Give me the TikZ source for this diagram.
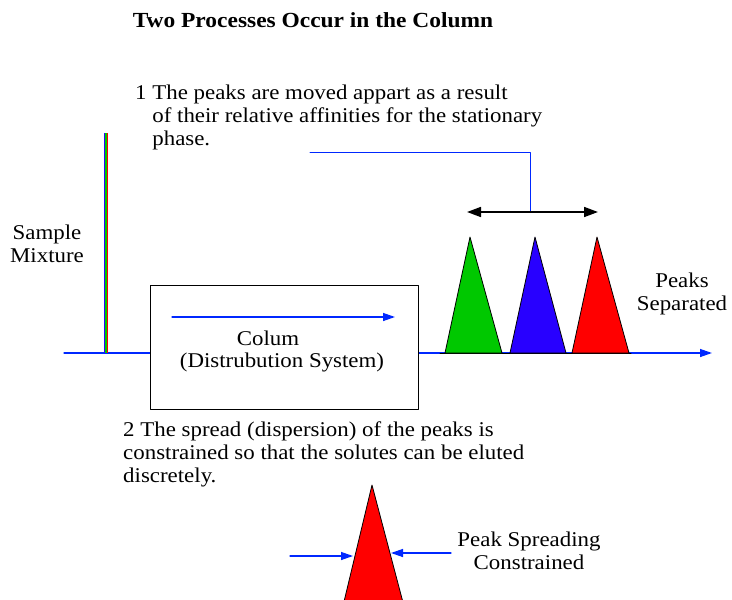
\documentclass[tikz,border=0pt]{standalone}
\usepackage{fontspec}
\setmainfont{Liberation Serif}[FakeStretch=1.09]
\usetikzlibrary{arrows.meta}
\definecolor{peakgreen}{RGB}{0,200,0}
\definecolor{peakblue}{RGB}{40,0,255}
\definecolor{peakred}{RGB}{255,0,0}
\definecolor{flowblue}{RGB}{0,40,255}
\begin{document}
\begin{tikzpicture}[x=1pt,y=-1pt,line cap=round,line join=round,
    flow/.style={draw=flowblue,line width=1.3pt},
    flowtip/.style={-{Triangle[length=12pt,width=8pt]}},
    peak/.style={draw=black,line width=0.8pt},
    lbl/.style={inner sep=0pt,font=\fontsize{21}{23}\selectfont,align=center},
    note/.style={lbl,align=left,anchor=north west}]
  \useasboundingbox (0,0) rectangle (732,600);
  \clip (0,0) rectangle (732,600);
  \coordinate (inlet) at (64,353);
  \coordinate (outlet) at (712,353);
  \coordinate (lead) at (310,152);
  \coordinate (sepL) at (467,212);
  \coordinate (sepM) at (530,212);
  \coordinate (sepR) at (598,212);
  \coordinate (flowA) at (172,317);
  \coordinate (flowB) at (395,317);
  \coordinate (injTop) at (106,133);
  \coordinate (injBot) at (106,353);
  \coordinate (sqL) at (290,556);
  \coordinate (sqLtip) at (353,556);
  \coordinate (sqR) at (451,553);
  \coordinate (sqRtip) at (391,553);
  % mobile phase line
  \draw[flow,flowtip] (inlet) -- (outlet);
  % injected sample
  \draw[peakblue,line width=1.1pt,line cap=butt] ([xshift=-1.3pt]injTop) -- ([xshift=-1.3pt]injBot);
  \draw[peakgreen,line width=1.1pt,line cap=butt] (injTop) -- (injBot);
  \draw[peakred,line width=1.1pt,line cap=butt] ([xshift=1.3pt]injTop) -- ([xshift=1.3pt]injBot);
  \node[lbl] (sample) at (47,244) {Sample\\Mixture};
  % column
  \node[draw,fill=white,line width=0.8pt,minimum width=268pt,minimum height=124pt] (col) at (284,347) {};
  \draw[flow,flowtip] (flowA) -- (flowB);
  \node[lbl] (colname) at (268,338) {Colum};
  \node[lbl] (coldesc) at (282,362) {(Distrubution System)};
  % separated peaks
  \draw[line width=1pt] (440,353) -- (631,353);
  \foreach \c/\l/\t/\r in {peakgreen/445/470/502,peakblue/510/535/566,peakred/572/597/629}
    \filldraw[peak,fill=\c] (\l,353) -- (\t,237) -- (\r,353) -- cycle;
  \node[lbl] (separated) at (682,294) {Peaks\\Separated};
  \draw[flow,line width=1pt] (lead) -| (sepM);
  \draw[line width=1.6pt,{Triangle[length=14pt,width=10pt]}-{Triangle[length=14pt,width=10pt]}] (sepL) -- (sepR);
  % texts
  \node[lbl,font=\bfseries\fontsize{21.5}{24}\selectfont] (title) at (313,20) {Two Processes Occur in the Column};
  \node[note] (stepone) at (135,85) {1 The peaks are moved appart as a result\\\phantom{1 }of their relative affinities for the stationary\\\phantom{1 }phase.};
  \node[note] (steptwo) at (123,422) {2 The spread (dispersion) of the peaks is\\constrained so that the solutes can be eluted\\discretely.};
  % constrained peak
  \filldraw[peak,fill=peakred] (372,485) -- (405,610) -- (342,610) -- cycle;
  \draw[flow,flowtip] (sqL) -- (sqLtip);
  \draw[flow,flowtip] (sqR) -- (sqRtip);
  \node[lbl] (spread) at (529,551) {Peak Spreading\\Constrained};
\end{tikzpicture}
\end{document}
